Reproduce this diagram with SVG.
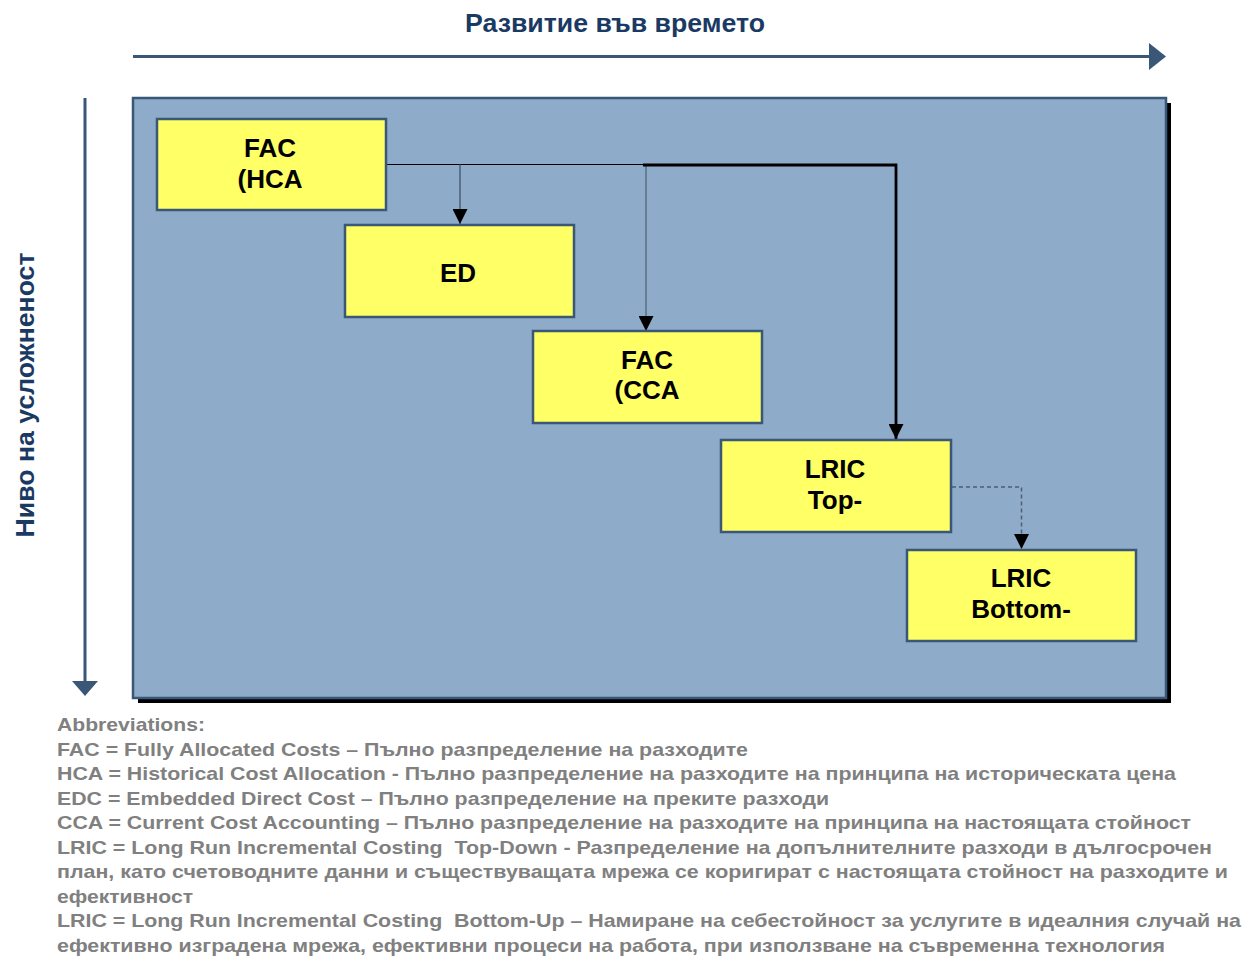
<svg xmlns="http://www.w3.org/2000/svg" width="1259" height="956" viewBox="0 0 1259 956">
<style>
.axis{fill:#1B3A63;font-family:"Liberation Sans",Arial,sans-serif;font-weight:bold;font-size:26px}
.box{fill:#FFFF66;stroke:#3B5778;stroke-width:2.5}
.lbl{fill:#000;font-family:"Liberation Sans",Arial,sans-serif;font-weight:bold;font-size:26px;text-anchor:middle}
.leg{fill:#808080;font-family:"Liberation Sans",Arial,sans-serif;font-weight:bold;font-size:19px;white-space:pre}
</style>
<defs>
<marker id="ah" markerWidth="15" markerHeight="15" refX="15" refY="7.5" orient="auto" markerUnits="userSpaceOnUse">
<path d="M0,0 L15,7.5 L0,15 Z" fill="#000"/>
</marker>
</defs>
<rect width="1259" height="956" fill="#fff"/>
<g id="time-axis">
<text class="axis" x="615" y="32" text-anchor="middle" textLength="300" lengthAdjust="spacingAndGlyphs">Развитие във времето</text>
<line x1="133" y1="56.5" x2="1151" y2="56.5" stroke="#3B5778" stroke-width="3"/>
<path d="M1149,43 L1166,56.5 L1149,70 Z" fill="#3B5778"/>
</g>
<g id="complexity-axis">
<line x1="85" y1="98" x2="85" y2="683" stroke="#3B5778" stroke-width="3"/>
<path d="M72,681 L98,681 L85,696 Z" fill="#3B5778"/>
<text class="axis" transform="translate(34,395) rotate(-90)" x="0" y="0" text-anchor="middle" textLength="285" lengthAdjust="spacingAndGlyphs">Ниво на усложненост</text>
</g>
<g id="panel">
<rect x="138" y="103" width="1033" height="600" fill="#000"/>
<rect x="133" y="98" width="1033" height="600" fill="#8EABC9" stroke="#3B5778" stroke-width="2.5"/>
</g>
<g id="connectors">
<line x1="387" y1="164.5" x2="644" y2="164.5" stroke="#000" stroke-width="1.2"/>
<line x1="460" y1="164.5" x2="460" y2="224" stroke="#4A5F75" stroke-width="1.5" marker-end="url(#ah)"/>
<line x1="646" y1="164.5" x2="646" y2="331" stroke="#5A6E82" stroke-width="1.5" marker-end="url(#ah)"/>
<polyline points="643,165 896,165 896,439" fill="none" stroke="#000" stroke-width="2.8" marker-end="url(#ah)"/>
<polyline points="952,487 1021.5,487 1021.5,549" fill="none" stroke="#4A5F75" stroke-width="1.5" stroke-dasharray="4,3" marker-end="url(#ah)"/>
</g>
<g id="node-fac-hca">
<rect class="box" x="157" y="119" width="229" height="91"/>
<text class="lbl" x="270" y="157">FAC</text>
<text class="lbl" x="270" y="188">(HCA</text>
</g>
<g id="node-ed">
<rect class="box" x="345" y="225" width="229" height="92"/>
<text class="lbl" x="458" y="282">ED</text>
</g>
<g id="node-fac-cca">
<rect class="box" x="533" y="331" width="229" height="92"/>
<text class="lbl" x="647" y="369">FAC</text>
<text class="lbl" x="647" y="399">(CCA</text>
</g>
<g id="node-lric-top">
<rect class="box" x="721" y="440" width="230" height="92"/>
<text class="lbl" x="835" y="478">LRIC</text>
<text class="lbl" x="835" y="509">Top-</text>
</g>
<g id="node-lric-bottom">
<rect class="box" x="907" y="550" width="229" height="91"/>
<text class="lbl" x="1021" y="587">LRIC</text>
<text class="lbl" x="1021" y="618">Bottom-</text>
</g>
<g id="legend">
<text class="leg" x="57" y="731" textLength="148" lengthAdjust="spacingAndGlyphs">Abbreviations:</text>
<text class="leg" x="57" y="755.5" textLength="691" lengthAdjust="spacingAndGlyphs">FAC = Fully Allocated Costs – Пълно разпределение на разходите</text>
<text class="leg" x="57" y="780" textLength="1119" lengthAdjust="spacingAndGlyphs">HCA = Historical Cost Allocation - Пълно разпределение на разходите на принципа на историческата цена</text>
<text class="leg" x="57" y="804.5" textLength="772" lengthAdjust="spacingAndGlyphs">EDC = Embedded Direct Cost – Пълно разпределение на преките разходи</text>
<text class="leg" x="57" y="829" textLength="1134" lengthAdjust="spacingAndGlyphs">CCA = Current Cost Accounting – Пълно разпределение на разходите на принципа на настоящата стойност</text>
<text class="leg" x="57" y="853.5" textLength="1155" lengthAdjust="spacingAndGlyphs">LRIC = Long Run Incremental Costing  Top-Down - Разпределение на допълнителните разходи в дългосрочен</text>
<text class="leg" x="57" y="878" textLength="1171" lengthAdjust="spacingAndGlyphs">план, като счетоводните данни и съществуващата мрежа се коригират с настоящата стойност на разходите и</text>
<text class="leg" x="57" y="902.5" textLength="136" lengthAdjust="spacingAndGlyphs">ефективност</text>
<text class="leg" x="57" y="927" textLength="1184" lengthAdjust="spacingAndGlyphs">LRIC = Long Run Incremental Costing  Bottom-Up – Намиране на себестойност за услугите в идеалния случай на</text>
<text class="leg" x="57" y="951.5" textLength="1108" lengthAdjust="spacingAndGlyphs">ефективно изградена мрежа, ефективни процеси на работа, при използване на съвременна технология</text>
</g>
</svg>
